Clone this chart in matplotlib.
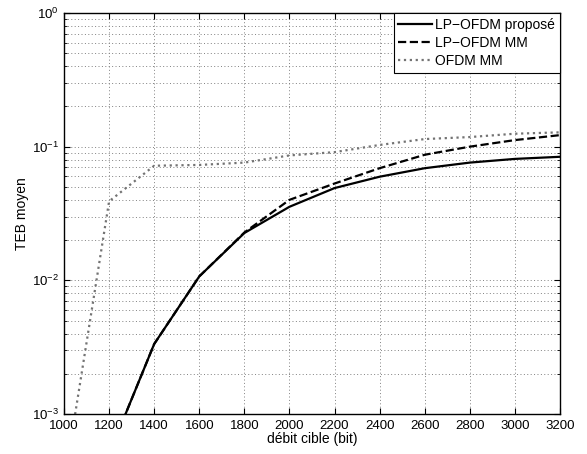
import numpy as np
import matplotlib
matplotlib.use('Agg')
import matplotlib.pyplot as pl
from matplotlib.ticker import LogLocator, NullFormatter

pl.rcParams['font.family'] = ['Liberation Sans', 'DejaVu Sans']
pl.rcParams['mathtext.fontset'] = 'custom'
pl.rcParams['mathtext.rm'] = 'Liberation Sans'
pl.rcParams['mathtext.it'] = 'Liberation Sans'

# debit cible (bit) and TEB moyen
debit_lp = [1200, 1400, 1600, 1800, 2000, 2200, 2400, 2600, 2800, 3000, 3200]
teb_propose = [5.0e-4, 3.34e-3, 1.07e-2, 2.26e-2, 3.55e-2, 4.9e-2,
               5.96e-2, 6.9e-2, 7.6e-2, 8.1e-2, 8.4e-2]
teb_mm = [5.0e-4, 3.34e-3, 1.07e-2, 2.28e-2, 4.0e-2, 5.3e-2,
          6.9e-2, 8.7e-2, 1.0e-1, 1.12e-1, 1.22e-1]
debit_ofdm = [1000, 1200, 1400, 1600, 1800, 2000, 2200, 2400, 2600, 2800, 3000, 3200]
teb_ofdm = [3.0e-4, 3.9e-2, 7.2e-2, 7.3e-2, 7.6e-2, 8.6e-2, 9.1e-2, 1.03e-1, 1.14e-1,
            1.18e-1, 1.25e-1, 1.28e-1]
xticks = np.arange(1000, 3201, 200)

fig = pl.figure(figsize=(5.87, 4.54), dpi=100)
ax = fig.add_axes([64 / 587, 1 - 414 / 454, (560 - 64) / 587, (414 - 13) / 454])

ax.semilogy(debit_lp, teb_propose, 'k-', lw=1.6, label='LP\u2212OFDM propos\u00e9')
ax.semilogy(debit_lp, teb_mm, 'k--', lw=1.6, label='LP\u2212OFDM MM')
ax.semilogy(debit_ofdm, teb_ofdm, ':', color='0.45', lw=1.6, label='OFDM MM')

ax.set_xlim(1000, 3200)
ax.set_ylim(1e-3, 1)
ax.set_xticks(xticks)
ax.yaxis.set_major_locator(LogLocator(base=10, numticks=10))
ax.yaxis.set_minor_locator(LogLocator(base=10, subs=np.arange(2, 10), numticks=20))
ax.yaxis.set_minor_formatter(NullFormatter())

grid_style = dict(ls=(0, (1, 2.5)), color='0.5', lw=0.7)
ax.grid(True, which='major', **grid_style)
ax.grid(True, which='minor', axis='y', **grid_style)
ax.tick_params(which='both', direction='in', top=True, right=True, labelsize=9.5)
ax.tick_params(which='major', length=4)
ax.tick_params(which='minor', length=2.5)
ax.tick_params(axis='x', pad=4)
for s in ax.spines.values():
    s.set_linewidth(1.0)

ax.set_xlabel('d\u00e9bit cible (bit)', fontsize=10, labelpad=0)
ax.set_ylabel('TEB moyen', fontsize=10, labelpad=2)

leg = ax.legend(loc='upper right', fontsize=10, fancybox=False, framealpha=1,
                edgecolor='k', borderaxespad=0, handlelength=2.4,
                handletextpad=0.25, borderpad=0.35, labelspacing=0.3)
leg.get_frame().set_linewidth(0.8)

pl.savefig('out.png', dpi=100)
pl.close()
